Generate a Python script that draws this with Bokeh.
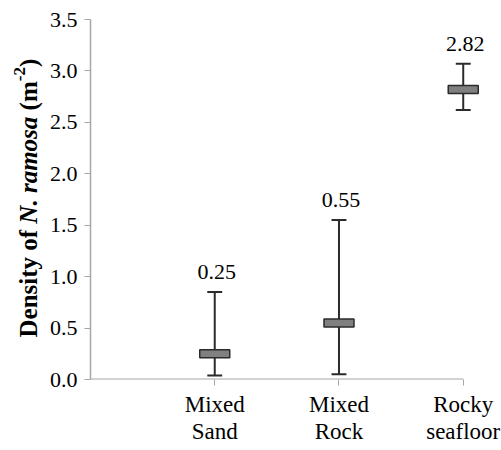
import math
from bokeh.plotting import figure
from bokeh.layouts import row
from bokeh.models import FixedTicker, Range1d, ColumnDataSource, Label
from bokeh.core.properties import value
from bokeh.embed import file_html
from bokeh.resources import INLINE

categories = ["Mixed\nSand", "Mixed\nRock", "Rocky\nseafloor"]
positions = [1, 2, 3]
means = [0.25, 0.55, 2.82]
upper = [0.85, 1.55, 3.07]
lower = [0.04, 0.05, 2.62]
mean_labels = ["0.25", "0.55", "2.82"]
y_ticks = [0.0, 0.5, 1.0, 1.5, 2.0, 2.5, 3.0, 3.5]

FONT = "Liberation Serif"
AXIS_GRAY = "#a6a6a6"
DARK = "#2b2b2b"

H = 450
LEFT_W = 46
TOP_B = 19
BOT_B = 71

p = figure(width=455, height=H, output_backend="svg", toolbar_location=None,
           x_range=Range1d(0, 3.3), y_range=Range1d(0, 3.5),
           min_border_left=44, min_border_top=TOP_B, min_border_bottom=BOT_B, min_border_right=1)
p.outline_line_color = None
p.grid.grid_line_color = None
p.background_fill_color = "white"

src = ColumnDataSource(dict(x=positions, m=means, up=upper, lo=lower, lab=mean_labels,
                            cl=[x - 0.06 for x in positions], cr=[x + 0.06 for x in positions]))

# x axis line (from 0 to last category)
p.segment(x0=[0], y0=[0], x1=[max(positions)], y1=[0], line_color=AXIS_GRAY, line_width=2)

# error bars
p.segment(x0="x", y0="lo", x1="x", y1="up", source=src, line_color=DARK, line_width=2)
p.segment(x0="cl", y0="up", x1="cr", y1="up", source=src, line_color=DARK, line_width=2)
p.segment(x0="cl", y0="lo", x1="cr", y1="lo", source=src, line_color=DARK, line_width=2)
# mean markers
p.rect(x="x", y="m", width=30, height=8, width_units="screen", height_units="screen",
       source=src, fill_color="#808080", line_color=DARK, line_width=1.5)
# value labels
p.text(x="x", y="up", text="lab", source=src, text_font=value(FONT), text_font_size="22px",
       text_align="center", text_baseline="alphabetic", y_offset=-20, x_offset=2, text_color="black")

# axes
xa = p.xaxis[0]
xa.ticker = FixedTicker(ticks=positions)
xa.major_label_overrides = {pos: lab for pos, lab in zip(positions, categories)}
xa.axis_line_color = None
xa.major_tick_line_color = AXIS_GRAY
xa.major_tick_out = 6
xa.major_tick_in = 0
xa.minor_tick_line_color = None
xa.major_label_text_font = FONT
xa.major_label_text_font_size = "23px"
xa.major_label_text_color = "black"
xa.major_label_text_line_height = 1.1
xa.major_label_standoff = 6

ya = p.yaxis[0]
ya.ticker = FixedTicker(ticks=y_ticks)
ya.major_label_overrides = {t: f"{t:.1f}" for t in y_ticks}
ya.axis_line_color = AXIS_GRAY
ya.axis_line_width = 1.5
ya.major_tick_line_color = AXIS_GRAY
ya.major_tick_out = 6
ya.major_tick_in = 0
ya.minor_tick_line_color = None
ya.major_label_text_font = FONT
ya.major_label_text_font_size = "22px"
ya.major_label_text_color = "black"
ya.major_label_standoff = 7

# y axis title in a narrow side panel, composed of pieces (bold, bold italic, superscript)
t = figure(width=LEFT_W, height=H, output_backend="svg", toolbar_location=None,
           x_range=Range1d(0, LEFT_W), y_range=Range1d(0, H),
           x_axis_location=None, y_axis_location=None,
           min_border=0, min_border_top=TOP_B, min_border_bottom=BOT_B)
t.outline_line_color = None
t.grid.grid_line_color = None
t.scatter(x=[0], y=[0], size=0, alpha=0)

fs = 25
sup = 17
BASE_X = 28
# (text, style, size, advance width in 1/1000 em, rise, leading space in 1/1000 em)
pieces = [
    ("Density of", "bold", fs, 4555, 0, 0),
    ("N. ramosa", "bold italic", fs, 4278, 0, 0),
    ("(m", "bold", fs, 1166, 0, 250),
    ("-2", "bold", sup, 833, 9, 0),
    (")", "bold", fs, 333, 0, 0),
]
# screen y is measured from the bottom of the panel's frame (aligned with the main frame)
ypos = (H - BOT_B) - 337
for txt, style, size, w, rise, lead in pieces:
    ypos += lead * size / 1000.0
    t.add_layout(Label(x=BASE_X - rise, y=ypos, x_units="screen", y_units="screen",
                       text=txt, angle=math.pi / 2,
                       text_align="left", text_baseline="alphabetic",
                       text_font=FONT, text_font_style=style, text_font_size=f"{size}px",
                       text_color="black"))
    ypos += w * size / 1000.0

layout = row(t, p, spacing=0)
open("out.html", "w").write(file_html(layout, INLINE))
